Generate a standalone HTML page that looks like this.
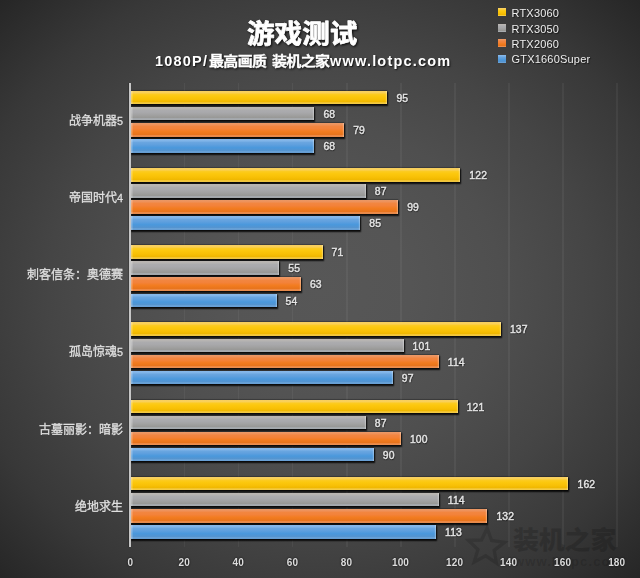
<!DOCTYPE html>
<html lang="zh"><head><meta charset="utf-8"><title>游戏测试</title>
<style>
html,body{margin:0;padding:0}
body{width:640px;height:578px;overflow:hidden;position:relative;font-family:"Liberation Sans",sans-serif;
background:#383838;}
#c{position:absolute;left:0;top:0;width:640px;height:578px;overflow:hidden;
background:radial-gradient(ellipse farthest-corner at 50% 50%,#575757 0%,#555555 20%,#4f4f4f 40%,#454545 60%,#383838 80%,#262626 100%);}
#c>*,#t>*{position:absolute}
#t{left:0;top:0;width:640px;height:578px;will-change:transform}
.cjk{position:absolute;overflow:visible}
.cjk text{font-family:"Liberation Sans","Noto Sans CJK SC",sans-serif}
.ht{position:absolute;color:transparent;white-space:nowrap;line-height:1.2;font-family:"Liberation Sans",sans-serif;pointer-events:none}
.grid{top:82.7px;width:1.4px;height:464px;background:rgba(255,255,255,.05)}
.axis{top:82.7px;width:1.8px;height:464px;background:#c6c6c6;box-shadow:-.5px 0 .8px rgba(0,0,0,.35)}
.tick{top:556.6px;width:40px;text-align:center;font-size:10px;line-height:12px;color:#dcdcdc;font-weight:bold;letter-spacing:.15px;text-shadow:0 0 2px rgba(0,0,0,.9)}
.bar{left:130.5px;height:13.6px;box-shadow:.7px 1px 1.3px .5px rgba(0,0,0,.85),0 -.4px .9px .2px rgba(0,0,0,.5)}
.bar:after{content:"";position:absolute;left:0;top:0;right:0;bottom:0;box-shadow:inset -1.2px 0 .6px rgba(255,255,255,.28),inset 1.5px 0 .6px rgba(255,255,255,.3)}
.y{background:linear-gradient(to bottom,#f0c040 0%,#f8d060 4%,#f9d058 14%,#fccb22 24%,#fcc80e 40%,#f8c006 65%,#f0b800 82%,#f3c430 89%,#f5cc44 96%,#c89820 100%)}
.g{background:linear-gradient(to bottom,#b0aca8 0%,#bab6b2 4%,#b6b4b2 14%,#acacae 24%,#a9a9ac 40%,#a2a2a2 60%,#989896 82%,#a4a8ac 89%,#a8acb0 96%,#7c7c7c 100%)}
.o{background:linear-gradient(to bottom,#e08a58 0%,#ec9864 4%,#ee9058 14%,#f28640 24%,#f3823a 40%,#f27c20 60%,#e8741c 82%,#ec8844 89%,#ee9050 96%,#a85a28 100%)}
.b{background:linear-gradient(to bottom,#78aade 0%,#86b8ea 4%,#80b4e8 14%,#6aa6e0 24%,#60a0de 40%,#4a98dc 62%,#5494d0 82%,#66a0d6 89%,#6aa2d8 96%,#3c6c9c 100%)}
.val{height:13.6px;line-height:15.7px;font-size:10.4px;color:#e6e6e6;letter-spacing:.15px;white-space:nowrap;-webkit-text-stroke:.45px #e4e4e4;text-shadow:0 0 1.5px rgba(0,0,0,.85),.5px .5px 1px rgba(0,0,0,.6)}
.sub{top:51.5px;height:18px;line-height:18px;font-size:14.5px;font-weight:bold;color:#fff;letter-spacing:1.2px;white-space:nowrap;text-shadow:1px 1px 1.5px rgba(0,0,0,.75)}
.ttl{filter:drop-shadow(1.5px 1.5px 1.1px rgba(0,0,0,.85));stroke:#fff;stroke-width:.8;stroke-linejoin:round}
.lab{stroke:#e0e0e0;stroke-width:.26}
.wm{opacity:.16}
.subc{filter:drop-shadow(1px 1px .8px rgba(0,0,0,.75));stroke:#fff;stroke-width:.36;stroke-linejoin:round}
.lsw{left:498.4px;width:8px;height:8px}
.ltx{left:511.5px;height:14px;line-height:14px;font-size:11px;color:#ececec;white-space:nowrap;letter-spacing:.2px;text-shadow:1px 1px 1px rgba(0,0,0,.6)}
.wmurl{left:514px;top:555px;font-size:13px;line-height:14px;font-weight:bold;color:rgba(0,0,0,.15);letter-spacing:1.1px}
</style></head>
<body>
<div id="c">
<div class="grid" style="left:183.99px"></div>
<div class="grid" style="left:238.04px"></div>
<div class="grid" style="left:292.10px"></div>
<div class="grid" style="left:346.15px"></div>
<div class="grid" style="left:400.20px"></div>
<div class="grid" style="left:454.25px"></div>
<div class="grid" style="left:508.30px"></div>
<div class="grid" style="left:562.36px"></div>
<div class="grid" style="left:616.41px"></div>
<svg class="cjk" style="left:464px;top:524px" width="46" height="48" viewBox="0 0 46 48" fill="none" stroke="#000" stroke-opacity=".14" stroke-width="3.4" stroke-linejoin="miter"><path d="M23.2 4.2 L27.6 16.5 L40.6 18.3 L30.2 26.3 L32.5 39.1 L21.7 31.8 L10.2 38.0 L13.9 25.4 L4.5 16.4 L17.5 16.0 Z"/></svg>
<svg class="cjk wm" style="left:508.90px;top:524.30px;" width="111.40" height="31.20" viewBox="0 0 111.40 31.20" fill="#000" role="img" aria-label="装机之家"><text transform="translate(0 24.70) scale(1 0.96)" x="4 29.8 55.6 81.4" y="0" font-size="26" font-weight="900" fill="#000">装机之家</text></svg>
<div class="wmurl">www.lotpc.com</div>
<div class="bar y" style="top:90.80px;width:256.89px"></div>
<div class="bar g" style="top:106.90px;width:183.92px"></div>
<div class="bar o" style="top:123.00px;width:213.65px"></div>
<div class="bar b" style="top:139.10px;width:183.92px"></div>
<div class="bar y" style="top:168.00px;width:329.86px"></div>
<div class="bar g" style="top:184.10px;width:235.27px"></div>
<div class="bar o" style="top:200.20px;width:267.70px"></div>
<div class="bar b" style="top:216.30px;width:229.86px"></div>
<div class="bar y" style="top:245.20px;width:192.02px"></div>
<div class="bar g" style="top:261.30px;width:148.78px"></div>
<div class="bar o" style="top:277.40px;width:170.40px"></div>
<div class="bar b" style="top:293.50px;width:146.08px"></div>
<div class="bar y" style="top:322.40px;width:370.40px"></div>
<div class="bar g" style="top:338.50px;width:273.10px"></div>
<div class="bar o" style="top:354.60px;width:308.24px"></div>
<div class="bar b" style="top:370.70px;width:262.29px"></div>
<div class="bar y" style="top:399.60px;width:327.15px"></div>
<div class="bar g" style="top:415.70px;width:235.27px"></div>
<div class="bar o" style="top:431.80px;width:270.40px"></div>
<div class="bar b" style="top:447.90px;width:243.37px"></div>
<div class="bar y" style="top:476.80px;width:437.96px"></div>
<div class="bar g" style="top:492.90px;width:308.24px"></div>
<div class="bar o" style="top:509.00px;width:356.88px"></div>
<div class="bar b" style="top:525.10px;width:305.53px"></div>
<div class="axis" style="left:129.1px"></div>
<div id="t">
<div class="val" style="top:90.80px;left:396.39px">95</div>
<div class="val" style="top:106.90px;left:323.42px">68</div>
<div class="val" style="top:123.00px;left:353.15px">79</div>
<div class="val" style="top:139.10px;left:323.42px">68</div>
<div class="val" style="top:168.00px;left:469.36px">122</div>
<div class="val" style="top:184.10px;left:374.77px">87</div>
<div class="val" style="top:200.20px;left:407.20px">99</div>
<div class="val" style="top:216.30px;left:369.36px">85</div>
<div class="val" style="top:245.20px;left:331.52px">71</div>
<div class="val" style="top:261.30px;left:288.28px">55</div>
<div class="val" style="top:277.40px;left:309.90px">63</div>
<div class="val" style="top:293.50px;left:285.58px">54</div>
<div class="val" style="top:322.40px;left:509.90px">137</div>
<div class="val" style="top:338.50px;left:412.60px">101</div>
<div class="val" style="top:354.60px;left:447.74px">114</div>
<div class="val" style="top:370.70px;left:401.79px">97</div>
<div class="val" style="top:399.60px;left:466.65px">121</div>
<div class="val" style="top:415.70px;left:374.77px">87</div>
<div class="val" style="top:431.80px;left:409.90px">100</div>
<div class="val" style="top:447.90px;left:382.87px">90</div>
<div class="val" style="top:476.80px;left:577.46px">162</div>
<div class="val" style="top:492.90px;left:447.74px">114</div>
<div class="val" style="top:509.00px;left:496.38px">132</div>
<div class="val" style="top:525.10px;left:445.03px">113</div>
<div class="tick" style="left:110.24px">0</div>
<div class="tick" style="left:164.29px">20</div>
<div class="tick" style="left:218.34px">40</div>
<div class="tick" style="left:272.40px">60</div>
<div class="tick" style="left:326.45px">80</div>
<div class="tick" style="left:380.50px">100</div>
<div class="tick" style="left:434.55px">120</div>
<div class="tick" style="left:488.60px">140</div>
<div class="tick" style="left:542.66px">160</div>
<div class="tick" style="left:596.71px">180</div>
<svg class="cjk lab" style="left:64.81px;top:113.85px;" width="61.99" height="14.40" viewBox="0 0 61.99 14.40" fill="#e0e0e0" role="img" aria-label="战争机器5"><text x="4 16 28 40" y="11.4" font-size="12" fill="#e0e0e0">战争机器<tspan x="52" font-size="10.8">5</tspan></text></svg>
<svg class="cjk lab" style="left:64.81px;top:191.05px;" width="61.99" height="14.40" viewBox="0 0 61.99 14.40" fill="#e0e0e0" role="img" aria-label="帝国时代4"><text x="4 16 28 40" y="11.4" font-size="12" fill="#e0e0e0">帝国时代<tspan x="52" font-size="10.8">4</tspan></text></svg>
<svg class="cjk lab" style="left:22.80px;top:268.25px;" width="104.00" height="14.40" viewBox="0 0 104.00 14.40" fill="#e0e0e0" role="img" aria-label="刺客信条：奥德赛"><text x="4 16 28 40 52 64 76 88" y="11.4" font-size="12" fill="#e0e0e0">刺客信条：奥德赛</text></svg>
<svg class="cjk lab" style="left:64.81px;top:345.45px;" width="61.99" height="14.40" viewBox="0 0 61.99 14.40" fill="#e0e0e0" role="img" aria-label="孤岛惊魂5"><text x="4 16 28 40" y="11.4" font-size="12" fill="#e0e0e0">孤岛惊魂<tspan x="52" font-size="10.8">5</tspan></text></svg>
<svg class="cjk lab" style="left:34.80px;top:422.65px;" width="92.00" height="14.40" viewBox="0 0 92.00 14.40" fill="#e0e0e0" role="img" aria-label="古墓丽影：暗影"><text x="4 16 28 40 52 64 76" y="11.4" font-size="12" fill="#e0e0e0">古墓丽影：暗影</text></svg>
<svg class="cjk lab" style="left:70.80px;top:499.85px;" width="56.00" height="14.40" viewBox="0 0 56.00 14.40" fill="#e0e0e0" role="img" aria-label="绝地求生"><text x="4 16 28 40" y="11.4" font-size="12" fill="#e0e0e0">绝地求生</text></svg>
<svg class="cjk ttl" style="left:242.60px;top:16.68px;" width="118.40" height="33.12" viewBox="0 0 118.40 33.12" fill="#fff" role="img" aria-label="游戏测试"><text transform="translate(0 26.22) scale(1 0.95)" x="4 31.6 59.2 86.8" y="0" font-size="27.6" font-weight="bold" fill="#fff">游戏测试</text></svg>
<div class="sub" id="s1" style="left:155px">1080P/</div>
<svg class="cjk subc" style="left:204.60px;top:51.55px;" width="65.99" height="18.00" viewBox="0 0 65.99 18.00" fill="#fff" role="img" aria-label="最高画质"><text transform="translate(0 14.25) scale(1 0.9)" x="4 18.33 32.66 46.99" y="0" font-size="15" font-weight="bold" fill="#fff">最高画质</text></svg>
<svg class="cjk subc" style="left:267.60px;top:51.55px;" width="65.99" height="18.00" viewBox="0 0 65.99 18.00" fill="#fff" role="img" aria-label="装机之家"><text transform="translate(0 14.25) scale(1 0.9)" x="4 18.33 32.66 46.99" y="0" font-size="15" font-weight="bold" fill="#fff">装机之家</text></svg>
<div class="sub" id="s2" style="left:330px">www.lotpc.com</div>
<div class="lsw y" style="top:8.4px"></div><div class="ltx" style="top:6.0px">RTX3060</div>
<div class="lsw g" style="top:24.0px"></div><div class="ltx" style="top:21.6px">RTX3050</div>
<div class="lsw o" style="top:39.3px"></div><div class="ltx" style="top:36.9px">RTX2060</div>
<div class="lsw b" style="top:54.8px"></div><div class="ltx" style="top:52.4px">GTX1660Super</div>
<div class="ht" style="top:113.8px;right:517px;font-size:12px">战争机器5</div>
<div class="ht" style="top:190.9px;right:517px;font-size:12px">帝国时代4</div>
<div class="ht" style="top:268.1px;right:517px;font-size:12px">刺客信条：奥德赛</div>
<div class="ht" style="top:345.4px;right:517px;font-size:12px">孤岛惊魂5</div>
<div class="ht" style="top:422.6px;right:517px;font-size:12px">古墓丽影：暗影</div>
<div class="ht" style="top:499.8px;right:517px;font-size:12px">绝地求生</div>
<h1 class="ht" style="left:247px;top:18px;font-size:27px;margin:0">游戏测试</h1>
<div class="ht" style="left:210px;top:53px;font-size:14px;font-weight:bold">最高画质 装机之家</div>
</div>
</div>
</body></html>
